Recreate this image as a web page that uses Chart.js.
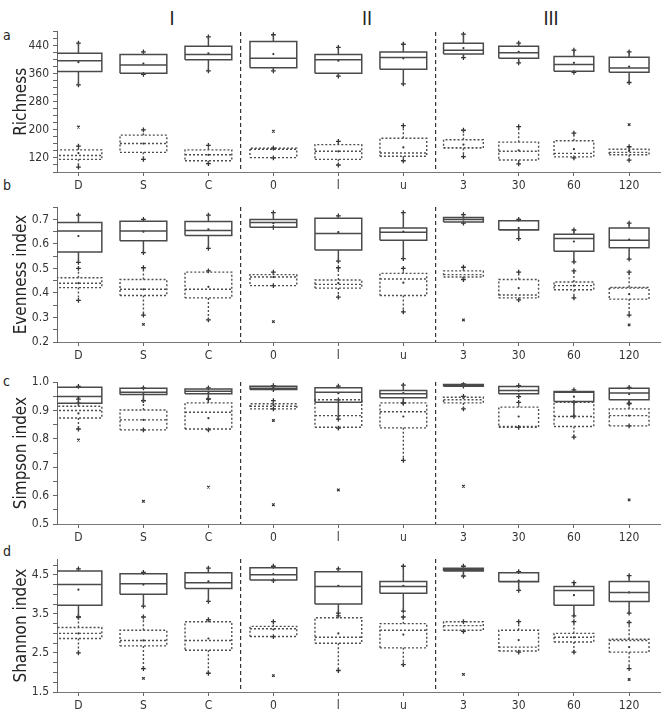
<!DOCTYPE html>
<html>
<head>
<meta charset="utf-8">
<script src="https://cdn.jsdelivr.net/npm/chart.js@4.4.1/dist/chart.umd.min.js"></script>
<style>
  body { margin: 0; background: #fff; }
  #page { position: relative; width: 669px; height: 713px; overflow: hidden; }
  .panel { position: absolute; left: 0; }
  .txt { position: absolute; color: #222; font-family: 'Liberation Sans Narrow', 'DejaVu Sans Condensed', 'Open Sans', sans-serif; white-space: nowrap; }
  .grp { font-size: 19px; line-height: 20px; transform: translateX(-50%); }
  .let { font-size: 14px; line-height: 16px; }
</style>
</head>
<body>
<div id="page">
  <div class="txt grp" style="left:172px;top:8px">I</div>
  <div class="txt grp" style="left:367px;top:8px">II</div>
  <div class="txt grp" style="left:551px;top:8px">III</div>
  <div class="txt let" style="left:3px;top:27px">a</div>
  <div class="txt let" style="left:3px;top:177px">b</div>
  <div class="txt let" style="left:3px;top:373px">c</div>
  <div class="txt let" style="left:3px;top:543px">d</div>
  <canvas class="panel" id="pa" width="669" height="176" style="top:20px"></canvas>
  <canvas class="panel" id="pb" width="669" height="170" style="top:196px"></canvas>
  <canvas class="panel" id="pc" width="669" height="177" style="top:371px"></canvas>
  <canvas class="panel" id="pd" width="669" height="166" style="top:548px"></canvas>
</div>
<script>
const categories = ["D", "S", "C", "0", "l", "u", "3", "30", "60", "120"];
const groupSizes = [3, 3, 4];

// each row: [min, q1, median, q3, max, mean]
const richnessUpper = [
  [328, 366, 397, 418, 447, 393], [358, 361, 385, 415, 422, 389], [368, 400, 415, 438, 465, 418],
  [368, 377, 404, 452, 471, 416], [353, 361, 400, 415, 435, 397], [331, 373, 406, 422, 444, 404],
  [406, 416, 427, 447, 473, 433], [391, 404, 420, 438, 447, 422], [364, 367, 386, 409, 427, 391],
  [335, 364, 376, 407, 422, 380]
];
const richnessLower = [
  [94, 116, 127, 143, 154, 134], [116, 136, 161, 185, 200, 161], [104, 112, 129, 143, 156, 129],
  [120, 121, 145, 148, 148, 146], [100, 116, 139, 158, 167, 139], [112, 125, 134, 176, 212, 150],
  [124, 148, 149, 172, 199, 158], [103, 114, 139, 165, 209, 142], [120, 123, 133, 169, 191, 145],
  [114, 129, 136, 145, 152, 140]
];
const richnessOutliers = [[0, 208], [3, 196], [9, 215]];
const richnessTicks = [120, 200, 280, 360, 440];

const evennessUpper = [
  [0.525, 0.567, 0.653, 0.688, 0.718, 0.632], [0.565, 0.613, 0.653, 0.693, 0.700, 0.650],
  [0.582, 0.635, 0.655, 0.692, 0.718, 0.660], [0.668, 0.668, 0.688, 0.700, 0.728, 0.685],
  [0.530, 0.575, 0.643, 0.705, 0.715, 0.648], [0.540, 0.615, 0.648, 0.665, 0.728, 0.650],
  [0.685, 0.690, 0.700, 0.708, 0.720, 0.700], [0.622, 0.657, 0.658, 0.695, 0.700, 0.665],
  [0.527, 0.570, 0.622, 0.640, 0.657, 0.610], [0.538, 0.585, 0.615, 0.665, 0.685, 0.618]
];
const evennessLower = [
  [0.370, 0.422, 0.440, 0.462, 0.500, 0.440], [0.310, 0.390, 0.415, 0.455, 0.503, 0.415],
  [0.290, 0.380, 0.415, 0.485, 0.490, 0.425], [0.430, 0.430, 0.465, 0.475, 0.485, 0.465],
  [0.383, 0.420, 0.435, 0.453, 0.503, 0.440], [0.323, 0.390, 0.457, 0.480, 0.500, 0.442],
  [0.455, 0.465, 0.475, 0.490, 0.505, 0.463], [0.372, 0.380, 0.392, 0.455, 0.485, 0.420],
  [0.380, 0.413, 0.430, 0.445, 0.490, 0.430], [0.310, 0.375, 0.420, 0.423, 0.485, 0.395]
];
const evennessOutliers = [[1, 0.272], [3, 0.283], [6, 0.29], [9, 0.27]];
const evennessTicks = [0.2, 0.3, 0.4, 0.5, 0.6, 0.7];

const simpsonUpper = [
  [0.926, 0.926, 0.950, 0.982, 0.985, 0.945], [0.935, 0.957, 0.965, 0.979, 0.980, 0.962],
  [0.941, 0.959, 0.968, 0.976, 0.980, 0.962], [0.974, 0.974, 0.979, 0.986, 0.988, 0.980],
  [0.870, 0.929, 0.965, 0.980, 0.986, 0.961], [0.926, 0.945, 0.959, 0.971, 0.990, 0.962],
  [0.986, 0.986, 0.989, 0.992, 0.994, 0.990], [0.949, 0.959, 0.971, 0.985, 0.988, 0.970],
  [0.880, 0.932, 0.965, 0.967, 0.973, 0.949], [0.926, 0.938, 0.962, 0.979, 0.982, 0.958]
];
const simpsonLower = [
  [0.835, 0.874, 0.900, 0.915, 0.940, 0.890], [0.832, 0.832, 0.867, 0.902, 0.935, 0.867],
  [0.832, 0.835, 0.894, 0.927, 0.940, 0.873], [0.906, 0.906, 0.915, 0.924, 0.935, 0.920],
  [0.838, 0.841, 0.882, 0.938, 0.938, 0.880], [0.724, 0.839, 0.896, 0.927, 0.927, 0.879],
  [0.906, 0.927, 0.938, 0.947, 0.950, 0.945], [0.841, 0.841, 0.844, 0.912, 0.929, 0.879],
  [0.806, 0.844, 0.879, 0.929, 0.929, 0.879], [0.846, 0.846, 0.882, 0.906, 0.924, 0.882]
];
const simpsonOutliers = [[0, 0.796], [1, 0.58], [2, 0.63], [3, 0.865], [3, 0.568], [4, 0.62], [6, 0.633], [9, 0.585]];
const simpsonTicks = [0.5, 0.6, 0.7, 0.8, 0.9, 1.0];

const shannonUpper = [
  [3.42, 3.72, 4.25, 4.60, 4.65, 4.12], [3.70, 4.00, 4.27, 4.53, 4.56, 4.25],
  [3.82, 4.15, 4.30, 4.55, 4.67, 4.33], [4.35, 4.37, 4.50, 4.68, 4.72, 4.52],
  [3.52, 3.75, 4.20, 4.58, 4.65, 4.22], [3.57, 4.03, 4.20, 4.33, 4.72, 4.22],
  [4.47, 4.60, 4.63, 4.67, 4.72, 4.62], [4.10, 4.32, 4.33, 4.55, 4.58, 4.35],
  [3.45, 3.72, 4.10, 4.20, 4.30, 3.98], [3.52, 3.82, 4.05, 4.33, 4.48, 4.05]
];
const shannonLower = [
  [2.50, 2.87, 3.00, 3.15, 3.42, 3.00], [2.10, 2.68, 2.82, 3.08, 3.42, 2.82],
  [1.98, 2.57, 2.82, 3.30, 3.35, 2.87], [2.92, 2.92, 3.12, 3.18, 3.30, 3.10],
  [2.05, 2.75, 2.90, 3.40, 3.45, 3.00], [2.20, 2.63, 3.08, 3.25, 3.42, 2.97],
  [3.05, 3.08, 3.20, 3.30, 3.30, 3.05], [2.52, 2.55, 2.65, 3.08, 3.30, 2.83],
  [2.52, 2.78, 2.90, 3.00, 3.30, 2.90], [2.10, 2.52, 2.82, 2.85, 3.28, 2.65]
];
const shannonOutliers = [[1, 1.85], [3, 1.92], [6, 1.95], [9, 1.82]];
const shannonTicks = [1.5, 2.5, 3.5, 4.5];

const FONT = "'Liberation Sans Narrow', 'DejaVu Sans Condensed', 'Open Sans', sans-serif";

// category slots: groups I and II use full slots, group III a narrower one
const slotWidth = [1, 1, 0.85];
const catX = [];
const catHalf = [];
const groupEdges = [];
let start = 0;
groupSizes.forEach((n, g) => {
  if (g > 0) groupEdges.push(start);
  for (let i = 0; i < n; i++) {
    catX.push(start + (i + 0.5) * slotWidth[g]);
    catHalf.push(0.36 * slotWidth[g]);
  }
  start += n * slotWidth[g];
});

function boxOutline(stats) {
  const pts = [];
  stats.forEach(([lo, q1, med, q3, hi], i) => {
    const x = catX[i], h = catHalf[i];
    pts.push({ x: x - h, y: q1 }, { x: x + h, y: q1 }, { x: x + h, y: q3 }, { x: x - h, y: q3 }, { x: x - h, y: q1 }, { x, y: null });
    pts.push({ x: x - h, y: med }, { x: x + h, y: med }, { x, y: null });
    pts.push({ x, y: q3 }, { x, y: hi }, { x, y: null });
    pts.push({ x, y: q1 }, { x, y: lo }, { x, y: null });
  });
  return pts;
}

function whiskerEnds(stats) {
  const pts = [];
  stats.forEach(([lo, , , , hi], i) => {
    pts.push({ x: catX[i], y: lo }, { x: catX[i], y: hi });
  });
  return pts;
}

function makePanel(id, p) {
  const minorTicks = [];
  for (let v = p.min; v <= p.max + 1e-9; v += p.step) minorTicks.push(+v.toFixed(4));

  new Chart(document.getElementById(id), {
    type: "line",
    data: {
      datasets: [
        {
          data: boxOutline(p.upper),
          borderColor: "#4a4a4a",
          borderWidth: 1.5,
          pointRadius: 0,
          spanGaps: false,
        },
        {
          data: boxOutline(p.lower),
          borderColor: "#4d4d4d",
          borderWidth: 1.4,
          borderDash: [2, 2],
          pointRadius: 0,
          spanGaps: false,
        },
        {
          data: whiskerEnds(p.upper).concat(whiskerEnds(p.lower)),
          showLine: false,
          pointStyle: "cross",
          pointRadius: 2.4,
          borderColor: "#333",
          borderWidth: 1.3,
        },
        {
          data: p.upper.concat(p.lower).map((r, i) => ({ x: catX[i % catX.length], y: r[5] })),
          showLine: false,
          pointStyle: "circle",
          pointRadius: 1.1,
          backgroundColor: "#333",
          borderWidth: 0,
        },
        {
          data: p.outliers.map(([c, v]) => ({ x: catX[c], y: v })),
          showLine: false,
          pointStyle: "crossRot",
          pointRadius: 1.8,
          borderColor: "#333",
          borderWidth: 1.2,
        },
      ],
    },
    options: {
      responsive: false,
      animation: false,
      layout: { padding: { top: p.padTop, right: 9, left: 0, bottom: 0 } },
      plugins: { legend: { display: false }, tooltip: { enabled: false } },
      scales: {
        x: {
          type: "linear",
          min: 0.17,
          max: 9.45,
          afterBuildTicks: (s) => { s.ticks = catX.map((v) => ({ value: v })); },
          afterFit: (s) => { s.height = p.xHeight; },
          ticks: {
            autoSkip: false,
            maxRotation: 0,
            padding: 3,
            color: "#333",
            font: { family: FONT, size: 12 },
            callback: (v, i) => categories[i],
          },
          grid: { drawOnChartArea: false, drawTicks: true, tickLength: 4, color: "#666" },
          border: { color: "#777", width: 1 },
        },
        x2: {
          type: "linear",
          position: "top",
          min: 0.17,
          max: 9.45,
          afterBuildTicks: (s) => { s.ticks = groupEdges.map((v) => ({ value: v })); },
          afterFit: (s) => { s.height = 0; },
          ticks: { display: false },
          grid: { drawOnChartArea: true, drawTicks: false, color: "#333", lineWidth: 1.2 },
          border: { display: false, dash: [4, 3] },
        },
        y: {
          type: "linear",
          min: p.min,
          max: p.max,
          afterBuildTicks: (s) => { s.ticks = minorTicks.map((v) => ({ value: v })); },
          afterFit: (s) => { s.width = 57; },
          ticks: {
            autoSkip: false,
            padding: 4,
            color: "#333",
            font: { family: FONT, size: 12 },
            callback: (v) => {
              const hit = p.labels.find((t) => Math.abs(t - v) < 1e-6);
              return hit === undefined ? "" : hit.toFixed(p.decimals);
            },
          },
          grid: { drawOnChartArea: false, drawTicks: true, tickLength: 4, color: "#666" },
          border: { color: "#666", width: 1 },
          title: {
            display: true,
            text: p.title,
            color: "#222",
            font: { family: FONT, size: 17 },
            padding: { top: 11, bottom: 0 },
          },
        },
      },
    },
  });
}

makePanel("pa", {
  title: "Richness", upper: richnessUpper, lower: richnessLower, outliers: richnessOutliers,
  labels: richnessTicks, min: 80, max: 480, step: 20, decimals: 0, padTop: 11.6, xHeight: 24,
});
makePanel("pb", {
  title: "Evenness index", upper: evennessUpper, lower: evennessLower, outliers: evennessOutliers,
  labels: evennessTicks, min: 0.2, max: 0.75, step: 0.05, decimals: 1, padTop: 4, xHeight: 24,
});
makePanel("pc", {
  title: "Simpson index", upper: simpsonUpper, lower: simpsonLower, outliers: simpsonOutliers,
  labels: simpsonTicks, min: 0.5, max: 1.0, step: 0.05, decimals: 1, padTop: 10, xHeight: 24,
});
makePanel("pd", {
  title: "Shannon index", upper: shannonUpper, lower: shannonLower, outliers: shannonOutliers,
  labels: shannonTicks, min: 1.5, max: 4.9, step: 0.25, decimals: 1, padTop: 5.7, xHeight: 22,
});
</script>
</body>
</html>
